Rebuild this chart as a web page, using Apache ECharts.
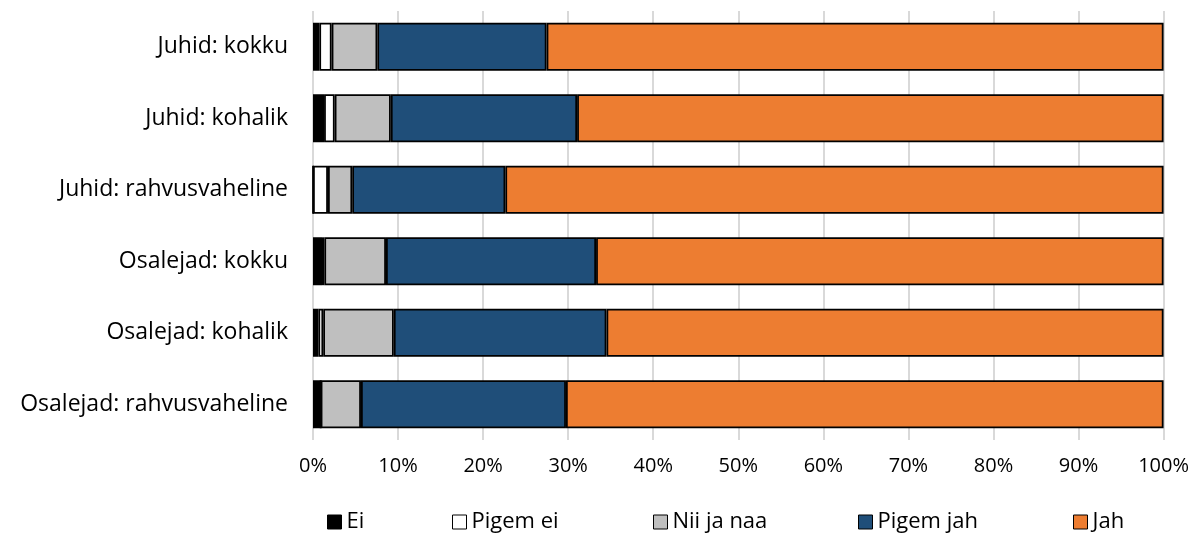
<!DOCTYPE html>
<html><head><meta charset="utf-8">
<script src="https://cdn.jsdelivr.net/npm/echarts@6/dist/echarts.min.js"></script>
<style>html,body{margin:0;padding:0;background:#fff}#c{width:1192px;height:533px}</style>
</head><body><div id="c"></div>
<script>
const categories = ["Juhid: kokku","Juhid: kohalik","Juhid: rahvusvaheline","Osalejad: kokku","Osalejad: kohalik","Osalejad: rahvusvaheline"];
const seriesNames = ["Ei","Pigem ei","Nii ja naa","Pigem jah","Jah"];
const ei       = [0.74, 1.3, 0, 1.06, 0.63, 0.9];
const pigemEi  = [1.45, 1.25, 1.76, 0.27, 0.57, 0];
const niiJaNaa = [5.37, 6.6, 2.85, 7.25, 8.3, 4.74];
const pigemJah = [19.9, 21.9, 18.0, 24.7, 25.0, 24.1];
const jah      = [72.54, 68.95, 77.39, 66.72, 65.5, 70.26];
const xTicks = [0,10,20,30,40,50,60,70,80,90,100];

const colors = ["#000000","#ffffff","#bfbfbf","#1f4e79","#ed7d31"];
const values = [ei, pigemEi, niiJaNaa, pigemJah, jah];
const FONT = "Open Sans";
const legendLefts = [327, 452, 653, 858, 1073];

const chart = echarts.init(document.getElementById('c'), null, {renderer:'canvas'});
chart.setOption({
  animation:false,
  textStyle:{fontFamily:FONT},
  grid:{left:313, right:28, top:11, bottom:93, containLabel:false},
  xAxis:{type:'value', min:0, max:100, interval:10,
    axisLine:{show:false}, axisTick:{show:false},
    splitLine:{show:true, lineStyle:{color:'#d9d9d9', width:2}},
    axisLabel:{margin:16, fontSize:20, color:'#000', fontFamily:FONT, formatter: v => v + '%'}},
  yAxis:{type:'category', data:categories, inverse:true,
    axisLine:{show:false}, axisTick:{show:false},
    axisLabel:{margin:25, fontSize:23, color:'#000', fontFamily:FONT}},
  legend: seriesNames.map((n,i)=>({
    data:[n], left:legendLefts[i], top:511, itemWidth:14, itemHeight:14, itemGap:6, padding:0,
    icon:'rect', textStyle:{fontSize:22, lineHeight:22, color:'#000', fontFamily:FONT, padding:[0,0,0,0]},
    itemStyle:{borderColor:'#000', borderWidth:1}, selectedMode:false
  })),
  series: seriesNames.map((n,i)=>({
    name:n, type:'bar', stack:'total', data:values[i], barCategoryGap:'33%',
    itemStyle:{color:colors[i], borderColor:'#000', borderWidth:1.8}
  }))
});
</script></body></html>
